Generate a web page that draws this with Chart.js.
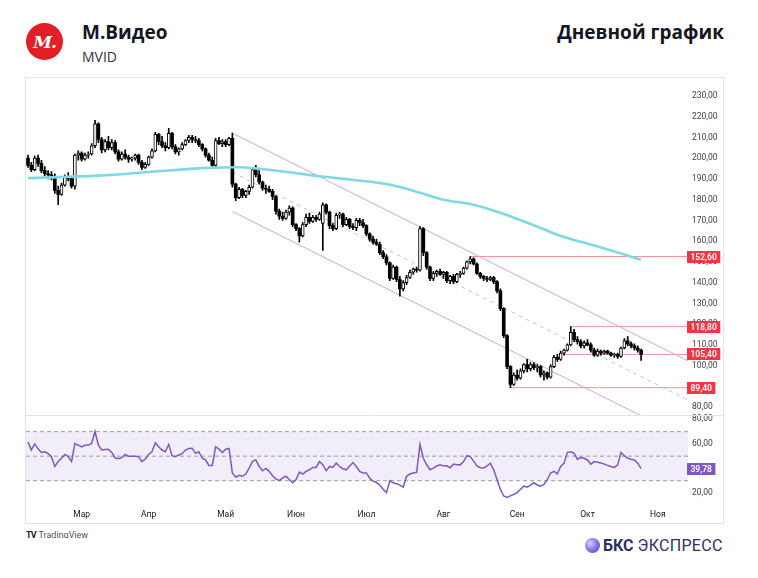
<!DOCTYPE html>
<html lang="ru">
<head>
<meta charset="utf-8">
<title>М.Видео — дневной график</title>
<script src="https://cdn.jsdelivr.net/npm/chart.js@4.4.1/dist/chart.umd.min.js"></script>
<style>
  html, body { margin: 0; padding: 0; background: #fff; }
  body { width: 758px; height: 578px; position: relative; overflow: hidden; font-family: "Open Sans", sans-serif; color: #131722; }
  .logo { position: absolute; left: 26px; top: 23px; width: 37px; height: 37px; border-radius: 50%; background: #e31e26; color: #fff;
          font: italic bold 17px "DejaVu Serif", serif; display: flex; align-items: center; justify-content: center; letter-spacing: -1px; }
  .name { position: absolute; left: 82px; top: 19px; font-size: 19px; font-weight: 700; line-height: 26px; }
  .ticker { position: absolute; left: 82px; top: 47px; font-size: 14px; line-height: 20px; color: #333; }
  .title { position: absolute; right: 34px; top: 19px; font-size: 19px; font-weight: 700; line-height: 26px; }
  .frame { position: absolute; left: 25px; top: 77px; width: 699px; height: 447px; box-sizing: border-box; border: 1px solid #e0e3eb; }
  .frame canvas { position: absolute; left: 0; top: 0; }
  .tv { position: absolute; left: 26px; top: 529px; height: 9px; overflow: hidden; font: 9px Roboto, sans-serif; color: #555; line-height: 12px; }
  .tv b { color: #222; letter-spacing: -1px; margin-right: 3px; }
  .bcs { position: absolute; left: 585px; top: 535px; height: 20px; display: flex; align-items: center; font-family: Roboto, sans-serif; font-size: 16px; color: #2e3063; }
  .bcs i { width: 15px; height: 15px; border-radius: 50%; margin-right: 3px; background: radial-gradient(circle at 35% 35%, #d9d0ff 0%, #8c7ae6 45%, #4c3fb8 100%); }
  .bcs b { font-weight: 700; margin-right: 4px; }
  .bcs span { letter-spacing: 0.3px; }
</style>
</head>
<body>
<div class="logo">M.</div>
<div class="name">М.Видео</div>
<div class="ticker">MVID</div>
<div class="title">Дневной график</div>

<div class="frame"><canvas id="chart" width="697" height="445"></canvas></div>

<div class="tv"><b>TV</b>TradingView</div>
<div class="bcs"><i></i><b>БКС</b><span>ЭКСПРЕСС</span></div>

<script>
// =======================
// ДАННЫЕ (дневные свечи, индекс = торговый день)
// =======================
const monthLabels = ["Мар", "Апр", "Май", "Июн", "Июл", "Авг", "Сен", "Окт", "Ноя"];
const monthIdx = [16, 36, 59, 80, 101, 124, 146, 167, 188];

const opens = [
    200, 196.5, 194.5, 200, 197.5, 194, 192.5, 192, 191, 184.5,
    182.5, 187, 191, 190, 186.5, 201.5, 202.5, 199.5, 201.5, 202,
    206, 216.5, 209, 204, 208, 205, 207.5, 203, 199.5, 202,
    200.5, 199.5, 200, 201.5, 198, 195.5, 197, 200.5, 203.5, 211.5,
    208, 206, 205, 212, 205.5, 203, 204.5, 206.5, 208.5, 210,
    209, 208.5, 206.5, 204.5, 201.5, 199, 196.5, 208.5, 207, 208,
    206.5, 209.5, 187.5, 181, 185, 182, 184, 186, 194.5, 192,
    188.5, 185.5, 185, 184, 181.5, 174.5, 172, 171, 174, 176,
    168, 166, 162.5, 168, 171.5, 169.5, 171.5, 170.5, 168.5, 177.5,
    174, 167.5, 166, 172.5, 173, 168, 170.5, 167, 166.5, 170,
    169, 167.5, 163.5, 161, 159.5, 158.5, 154.5, 152.5, 149.5, 142,
    147.5, 141.5, 137, 140, 142.5, 145, 146.5, 146, 166, 154.5,
    147.5, 142, 144.5, 145.5, 144, 145, 141, 143, 140.5, 144,
    144.5, 147, 150, 151.5, 149, 144.5, 143, 142, 141.5, 142.5,
    140.5, 136, 127.5, 114.5, 99.5, 91, 95.5, 94, 97.5, 100.5,
    98.5, 100.5, 99, 99.5, 95.5, 96.5, 94.5, 99.5, 104, 103,
    106, 107.5, 110, 116, 112.5, 111.5, 109.5, 111, 110, 107.5,
    105, 107, 106, 107, 106, 105, 105.5, 104.5, 108.5, 112,
    110.5, 109.5, 108.5, 107.5
];

const highs = [
    201.5, 198, 201, 201.5, 199, 196, 194, 193.5, 192.5, 186.5,
    188, 192, 193, 191, 202, 203.5, 203, 202.5, 203, 207,
    218.2, 217, 210, 209, 210.5, 209, 208.5, 204, 203, 204,
    201.5, 200.5, 202, 202, 199, 198, 201, 204.5, 212.5, 212,
    210.5, 207.5, 214.4, 212.5, 206.5, 205, 207.5, 209, 211, 211,
    210.5, 209.5, 207, 205, 202.5, 200.5, 209.5, 210, 209, 209,
    210, 212.1, 188, 186, 185.5, 184.5, 187, 195.5, 196.5, 194,
    189, 187, 186.5, 185, 182, 175.5, 174, 175, 177, 176.5,
    168.5, 166.5, 169, 173, 173.5, 172.5, 172.5, 174, 178.5, 178,
    174.5, 168.5, 173.5, 174, 173.5, 171.5, 171, 168.5, 171, 171,
    170.5, 168, 164, 162.5, 161, 159.5, 155.5, 153.5, 150, 148.5,
    148, 143, 141, 143.5, 146, 147, 147.5, 167, 166.5, 155,
    148, 145.5, 146, 146.5, 145.5, 145.5, 143.5, 144, 144.5, 145.5,
    147.5, 150.5, 152.6, 152, 149.5, 145, 143.5, 143, 143, 143,
    141, 137, 128, 115, 100, 96.5, 98, 98.5, 101, 103,
    101.5, 101.5, 100.5, 100, 97.5, 97, 100.5, 105, 105.5, 107,
    108, 110.5, 118.8, 117.5, 114, 112.5, 112, 112.5, 111, 108.5,
    108, 107.5, 107.5, 107.5, 106.5, 106, 106, 109, 113, 114,
    111.5, 110.5, 109.5, 108
];

const lows = [
    195.5, 193.5, 194, 196, 193, 191.5, 190, 189.5, 183, 177.6,
    182, 186.5, 189, 185.5, 185, 199, 198.5, 199, 200, 201.5,
    205, 207.5, 202.5, 203, 204, 204, 202, 198.5, 199, 199.5,
    198, 198.5, 199, 197, 194.5, 195, 196.5, 200, 203, 206.5,
    205, 203.5, 204.5, 204.5, 202, 201.5, 204, 206, 207.5, 207.5,
    207.5, 205.5, 203.5, 200.5, 198.5, 196, 196, 206.5, 205.5, 205.5,
    206, 186, 179.5, 180.5, 181, 181, 182.5, 185.5, 191, 187.5,
    184.5, 183, 183.5, 180, 173, 170.5, 170, 170.5, 172.5, 167,
    165, 159.5, 162, 167, 168.5, 169, 169.5, 170, 155.5, 173,
    166, 165, 165.5, 171, 167, 167.5, 166, 165.5, 165, 167.5,
    166.5, 162.5, 160, 158.5, 158, 153.5, 151.5, 148.5, 141, 141.5,
    140.5, 133.5, 136, 139, 142, 144, 145, 145.5, 153, 146.5,
    141, 141, 143, 143.5, 142, 140, 139.5, 139.5, 140, 142.5,
    144, 146.5, 149, 148.5, 144, 142, 141, 140.5, 141, 139.5,
    135, 126.5, 113.5, 98.5, 89.4, 90.5, 93, 93.5, 96.5, 97,
    97.5, 98, 97, 94.5, 93, 93.5, 94, 99, 102, 102.5,
    105, 107, 109.5, 111.5, 110.5, 108.5, 108.5, 109.5, 106.5, 104.5,
    104.5, 105, 105.5, 105.5, 104.5, 104, 103.5, 104, 108, 109.5,
    108.5, 107.5, 106.5, 102.5
];

const closes = [
    196.5, 194.5, 200, 197.5, 194, 192.5, 192, 191, 184.5, 182.5,
    187, 191, 190, 186.5, 201.5, 202.5, 199.5, 201.5, 202, 206,
    216.5, 209, 204, 208, 205, 207.5, 203, 199.5, 202, 200.5,
    199.5, 200, 201.5, 198, 195.5, 197, 200.5, 203.5, 211.5, 208,
    206, 205, 212, 205.5, 203, 204.5, 206.5, 208.5, 210, 209,
    208.5, 206.5, 204.5, 201.5, 199, 196.5, 208.5, 207, 208, 206.5,
    209.5, 187.5, 181, 185, 182, 184, 186, 194.5, 192, 188.5,
    185.5, 185, 184, 181.5, 174.5, 172, 171, 174, 176, 168,
    166, 162.5, 168, 171.5, 169.5, 171.5, 170.5, 173, 177.5, 174,
    167.5, 166, 172.5, 173, 168, 170.5, 167, 166.5, 170, 169,
    167.5, 163.5, 161, 159.5, 158.5, 154.5, 152.5, 149.5, 142, 147.5,
    141.5, 137, 140, 142.5, 145, 146.5, 146, 166, 154.5, 147.5,
    142, 144.5, 145.5, 144, 145, 141, 143, 140.5, 144, 144.5,
    147, 150, 151.5, 149, 144.5, 143, 142, 141.5, 142.5, 140.5,
    136, 127.5, 114.5, 99.5, 91, 95.5, 94, 97.5, 100.5, 98.5,
    100.5, 99, 99.5, 95.5, 96.5, 94.5, 99.5, 104, 103, 106,
    107.5, 110, 116, 112.5, 111.5, 109.5, 111, 110, 107.5, 105,
    107, 106, 107, 106, 105, 105.5, 104.5, 108.5, 112, 110.5,
    109.5, 108.5, 107.5, 105.4
];

const maIdx = [0, 21, 39, 54, 62, 69, 78, 87, 96, 105, 111, 117, 124, 132, 138, 144, 153, 159, 165, 171, 177, 183];
const maVals = [190.4, 191.6, 193.7, 195.3, 195.6, 194.9, 193.2, 191.3, 189.7, 188.0, 186.1, 183.3, 180.0, 177.9, 175.3, 172.0, 166.3, 162.5, 159.7, 157.0, 154.1, 151.0];

// RSI
const rsi = [
    61.6, 55, 60, 56, 53, 53.5, 52, 49.6, 41.6, 45.6,
    48.3, 51.4, 49.6, 45.6, 60.3, 59, 57.6, 58.9, 59, 60.3,
    70.1, 59, 55, 55.5, 55.7, 53, 48.5, 48, 48.8, 51.4,
    50, 50, 50, 49.6, 45.6, 47.7, 51.4, 53.6, 61, 57.6,
    55, 53.6, 59.5, 50.4, 49.6, 51, 52, 55, 56.3, 56.5,
    52.3, 53.6, 48.3, 47, 42.4, 42.4, 57.6, 55.7, 53, 55.7,
    56.3, 36.3, 32.8, 34.4, 33.6, 35.4, 40.3, 45.6, 47, 41.6,
    38.1, 40, 37.6, 34, 31.5, 30.1, 32.3, 33.6, 30.9, 28.3,
    30.9, 37, 35.4, 37.6, 38.9, 40.8, 40.8, 45.6, 43, 38.1,
    41.6, 40.8, 44.3, 41.6, 39.7, 38.9, 42, 44.8, 41.6, 37.6,
    36.3, 36.3, 32, 29.6, 28.5, 26.5, 23, 20.3, 30, 28.3,
    27.5, 26.4, 24.8, 33.6, 35.5, 36.3, 36.8, 59.5, 48.3, 43,
    38.9, 40.3, 42, 42.9, 42.1, 42.1, 40.5, 43.5, 43, 42.9,
    45.6, 50.4, 49.6, 46, 42, 40.6, 40.3, 42, 44.3, 38.9,
    31, 22.9, 17.5, 16.3, 17.6, 18.9, 20.3, 23, 25.6, 24.8,
    26.4, 28.3, 26.5, 25.6, 26.9, 30.9, 36.3, 37.6, 35.5, 41.6,
    44.3, 53.1, 53.6, 52.3, 47.5, 48.8, 48.3, 46.9, 43.5, 45.6,
    45.1, 44.5, 43.5, 42.5, 41.6, 40.8, 42.9, 53.1, 50.4, 48.3,
    47.5, 46.9, 44.3, 39.78
];
const rsiLevels = [70, 50, 30];

// нисходящий канал: [индекс, цена] начала и конца
const chanUpper = [[61, 212.1], [197, 102.3]];
const chanMiddle = [[61, 193.2], [197, 83.4]];
const chanLower = [[61, 174.3], [182.8, 76]];

// горизонтальные уровни
const levels = [152.6, 118.8, 105.4, 89.4];
const levelStart = [132, 162, 160, 144];

// =======================
// НАСТРОЙКИ
// =======================
const X_MIN = -0.6;
const X_MAX = 197;
const UP = "#ffffff";
const DOWN = "#000000";
const FONT = "Roboto";

const fmt = v => v.toFixed(2).replace(".", ",");
const pts = arr => arr.map(p => ({ x: p[0], y: p[1] }));

const idx = closes.map((_, i) => i);
const isUp = idx.map(i => closes[i] >= opens[i]);

// =======================
// ПЛАШКИ НА ШКАЛЕ + РАЗДЕЛИТЕЛЬ ПАНЕЛЕЙ
// =======================
function drawTag(c, x, y, text, color) {
    const w = c.measureText(text).width + 7;
    c.fillStyle = color;
    c.fillRect(x, Math.round(y) - 6, w, 12);
    c.fillStyle = "#fff";
    c.textAlign = "left";
    c.textBaseline = "middle";
    c.fillText(text, x + 3.5, Math.round(y) + 0.5);
}

const paneDecor = {
    id: "paneDecor",
    afterDraw(chart) {
        const c = chart.ctx;
        const py = chart.scales.y;
        const ry = chart.scales.rsi;
        const right = chart.chartArea.right - 1;

        c.save();
        c.strokeStyle = "#e0e3eb";
        c.lineWidth = 1;
        c.beginPath();
        c.moveTo(0, Math.round(py.bottom) + 0.5);
        c.lineTo(chart.width, Math.round(py.bottom) + 0.5);
        c.stroke();

        c.font = "600 8.5px " + FONT;
        levels.forEach(v => drawTag(c, right, py.getPixelForValue(v), fmt(v), "#f23645"));
        const last = rsi[rsi.length - 1];
        drawTag(c, right, ry.getPixelForValue(last), fmt(last), "#7e57c2");
        c.restore();
    }
};

// =======================
// НАБОРЫ ДАННЫХ
// =======================
const lineBase = { type: "line", pointRadius: 0, borderWidth: 1, fill: false, tension: 0 };

const datasets = [
    {
        label: "Тело",
        data: idx.map(i => ({ x: i, y: [opens[i], closes[i]] })),
        backgroundColor: idx.map(i => isUp[i] ? UP : DOWN),
        borderColor: DOWN,
        borderWidth: idx.map(i => isUp[i] ? 1 : 0),
        borderSkipped: false,
        barThickness: 3,
        minBarLength: 1,
        grouped: false,
        yAxisID: "y",
        order: 2
    },
    {
        label: "Тени",
        data: idx.map(i => ({ x: i, y: [lows[i], highs[i]] })),
        backgroundColor: DOWN,
        barThickness: 1,
        grouped: false,
        yAxisID: "y",
        order: 3
    },
    {
        ...lineBase,
        label: "MA",
        data: maIdx.map((x, k) => ({ x, y: maVals[k] })),
        borderColor: "#80d8e4",
        borderWidth: 2.6,
        cubicInterpolationMode: "monotone",
        yAxisID: "y",
        order: 1
    },
    { ...lineBase, label: "Канал верх", data: pts(chanUpper), borderColor: "#d6a4e2", yAxisID: "y", order: 4 },
    { ...lineBase, label: "Канал низ", data: pts(chanLower), borderColor: "#d6a4e2", yAxisID: "y", order: 4 },
    { ...lineBase, label: "Канал центр", data: pts(chanMiddle), borderColor: "#aac6ef", borderDash: [4, 4], yAxisID: "y", order: 4 },
    ...levels.map((v, k) => ({
        ...lineBase,
        label: "Уровень " + fmt(v),
        data: [{ x: levelStart[k], y: v }, { x: X_MAX, y: v }],
        borderColor: "rgba(242,54,69,0.55)",
        yAxisID: "y",
        order: 4
    })),
    {
        ...lineBase,
        label: "RSI зона",
        data: [{ x: X_MIN, y: rsiLevels[0] }, { x: X_MAX, y: rsiLevels[0] }],
        borderColor: "#9a9ca6",
        borderDash: [4, 3],
        fill: { target: { value: rsiLevels[2] } },
        backgroundColor: "rgba(126,87,194,0.1)",
        yAxisID: "rsi",
        order: 6
    },
    ...rsiLevels.slice(1).map(v => ({
        ...lineBase,
        label: "RSI " + v,
        data: [{ x: X_MIN, y: v }, { x: X_MAX, y: v }],
        borderColor: "#9a9ca6",
        borderDash: [4, 3],
        yAxisID: "rsi",
        order: 5
    })),
    {
        ...lineBase,
        label: "RSI",
        data: idx.map(i => ({ x: i, y: rsi[i] })),
        borderColor: "#7e57c2",
        borderWidth: 1.5,
        yAxisID: "rsi",
        order: 0
    }
];

// =======================
// ГРАФИК
// =======================
const tickFont = { family: FONT, size: 8.5 };

new Chart(document.getElementById("chart").getContext("2d"), {
    type: "bar",
    data: { datasets },
    options: {
        responsive: false,
        animation: false,
        layout: { padding: 0 },
        plugins: {
            legend: { display: false },
            tooltip: { enabled: false }
        },
        scales: {
            x: {
                type: "linear",
                min: X_MIN,
                max: X_MAX,
                offset: false,
                grid: { display: false, drawTicks: false },
                border: { display: false },
                ticks: {
                    autoSkip: false,
                    maxRotation: 0,
                    padding: 6,
                    color: "#131722",
                    font: tickFont,
                    callback: v => monthLabels[monthIdx.indexOf(v)] || ""
                },
                afterBuildTicks: s => { s.ticks = monthIdx.map(v => ({ value: v })); },
                afterFit: s => { s.height = 19; }
            },
            y: {
                type: "linear",
                position: "right",
                stack: "panes",
                stackWeight: 335.5,
                min: 76,
                max: 234.25,
                grid: { display: false, drawTicks: false },
                border: { display: false },
                ticks: { stepSize: 10, autoSkip: false, includeBounds: false, padding: 4, color: "#3b3e47", font: tickFont, callback: v => fmt(v) },
                afterFit: s => { s.width = 35; }
            },
            rsi: {
                type: "linear",
                position: "right",
                stack: "panes",
                stackWeight: 90.5,
                min: 11,
                max: 83.2,
                grid: { display: false, drawTicks: false },
                border: { display: false },
                ticks: { stepSize: 20, autoSkip: false, includeBounds: false, padding: 4, color: "#3b3e47", font: tickFont, callback: v => fmt(v) },
                afterFit: s => { s.width = 35; }
            }
        }
    },
    plugins: [paneDecor]
});
</script>
</body>
</html>
